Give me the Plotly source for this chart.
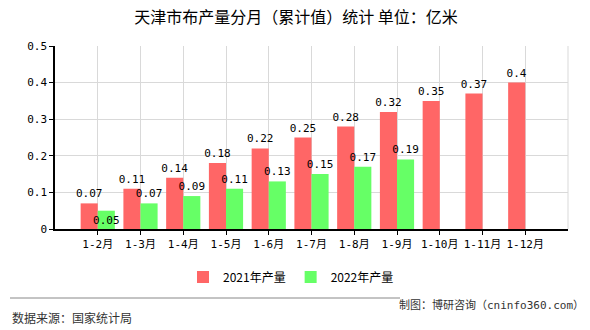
import plotly.graph_objects as go

categories = ["1-2月", "1-3月", "1-4月", "1-5月", "1-6月", "1-7月", "1-8月", "1-9月", "1-10月", "1-11月", "1-12月"]
values_2021 = [0.07, 0.11, 0.14, 0.18, 0.22, 0.25, 0.28, 0.32, 0.35, 0.37, 0.4]
values_2022 = [0.05, 0.07, 0.09, 0.11, 0.13, 0.15, 0.17, 0.19, None, None, None]
y_ticks = [0, 0.1, 0.2, 0.3, 0.4, 0.5]
y_tick_labels = ["0", "0.1", "0.2", "0.3", "0.4", "0.5"]

W, H = 590, 330
L, R, T, B = 55, 22, 46, 101
pw, ph = W - L - R, H - T - B

def px(x):
    return (x - L) / pw

def py(y):
    return (H - B - y) / ph

mono = "DejaVu Sans Mono, Noto Sans CJK SC, monospace"
cjk = "Noto Sans CJK SC, sans-serif"

idx = list(range(len(categories)))

fig = go.Figure()
fig.add_trace(go.Bar(
    x=idx, y=values_2021, name="2021年产量",
    marker=dict(color="#FF6666", line=dict(width=0)),
    text=[f"{v:g}" for v in values_2021], textposition="outside",
    constraintext="none", textangle=0,
    textfont=dict(family=mono, size=11, color="#000"),
    cliponaxis=False,
))
fig.add_trace(go.Bar(
    x=idx, y=values_2022, name="2022年产量",
    marker=dict(color="#66FF66", line=dict(width=0)),
    text=[("" if v is None else f"{v:g}") for v in values_2022],
    textposition=["inside"] + ["outside"] * (len(values_2022) - 1),
    insidetextanchor="end",
    constraintext="none", textangle=0,
    textfont=dict(family=mono, size=11, color="#000"),
    insidetextfont=dict(family=mono, size=11, color="#000"),
    outsidetextfont=dict(family=mono, size=11, color="#000"),
    cliponaxis=False,
))

fig.update_layout(
    width=W, height=H,
    margin=dict(l=L, r=R, t=T, b=B),
    paper_bgcolor="white", plot_bgcolor="white",
    barmode="group", bargap=0.2, bargroupgap=0,
    title=dict(text="天津市布产量分月（累计值）统计 单位：亿米", xref="paper", x=px(296), xanchor="center",
               y=1 - 17 / H, yanchor="middle",
               font=dict(family=cjk, size=16, color="#000")),
    showlegend=True,
    legend=dict(orientation="h", x=px(291), xanchor="center", y=py(277), yanchor="middle",
                font=dict(family=cjk, size=12, color="#000"),
                itemwidth=30, traceorder="normal"),
    xaxis=dict(
        range=[-1, 11],
        tickmode="array", tickvals=idx, ticktext=categories,
        showgrid=True, gridcolor="#d9d9d9", gridwidth=1,
        showline=True, linecolor="#000", linewidth=1.5,
        ticks="outside", ticklen=4, tickcolor="#000",
        tickfont=dict(family=mono, size=11, color="#000"),
        zeroline=False, fixedrange=True,
    ),
    yaxis=dict(
        range=[0, 0.5],
        tickmode="array", tickvals=y_ticks, ticktext=y_tick_labels,
        showgrid=True, gridcolor="#d9d9d9", gridwidth=1,
        showline=True, linecolor="#000", linewidth=1.5,
        ticks="outside", ticklen=4, tickcolor="#000",
        tickfont=dict(family=mono, size=11, color="#000"),
        zeroline=False, fixedrange=True,
    ),
    shapes=[
        dict(type="line", xref="paper", yref="paper", x0=px(10), x1=px(400), y0=py(298), y1=py(298),
             line=dict(color="#888", width=1)),
        dict(type="line", xref="paper", yref="paper", x0=1, x1=1, y0=0, y1=1,
             line=dict(color="#d9d9d9", width=1)),
    ],
    annotations=[
        dict(text="数据来源：国家统计局", xref="paper", yref="paper", x=px(10), y=py(317),
             xanchor="left", yanchor="middle", showarrow=False,
             font=dict(family=cjk, size=12, color="#333")),
        dict(text="制图：博研咨询（cninfo360.com）", xref="paper", yref="paper", x=px(586), y=py(305),
             xanchor="right", yanchor="middle", showarrow=False,
             font=dict(family=mono, size=11, color="#333")),
    ],
)

fig.write_html("out.html")
